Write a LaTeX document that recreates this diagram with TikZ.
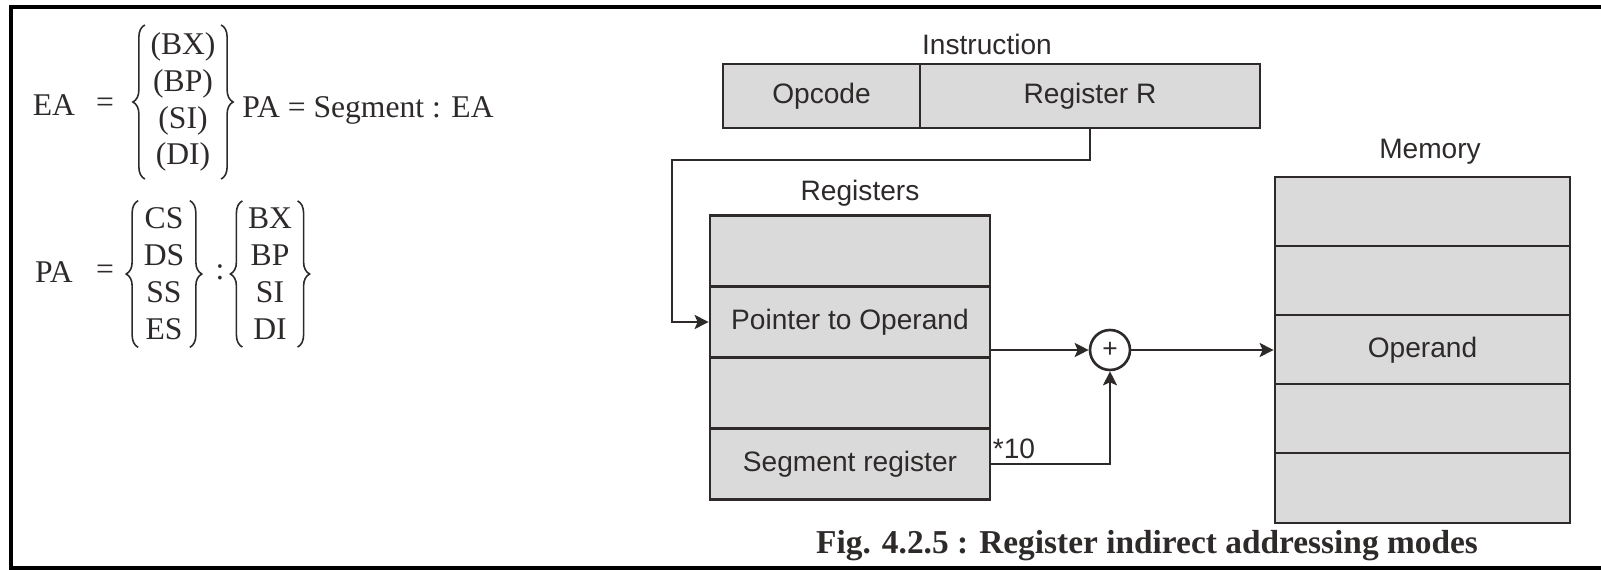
\documentclass[tikz,border=0pt]{standalone}
\usepackage{fontspec}
\setmainfont{Liberation Serif}
\setsansfont{Liberation Sans}
\usetikzlibrary{arrows.meta,decorations.pathreplacing}
\definecolor{ink}{HTML}{2E2A2A}
\definecolor{cellgray}{HTML}{DADADA}
\tikzset{
  formula/.style={font=\fontsize{18}{21}\selectfont,text=ink,inner sep=0pt},
  items/.style={formula,align=center,inner xsep=3pt,inner ysep=1pt},
  setbrace/.style={draw=ink,line width=0.9pt,decorate,decoration={brace,amplitude=2.4mm}},
  boxlabel/.style={font=\sffamily\fontsize{16}{19}\selectfont,text=ink,inner sep=0pt},
  cell/.style={draw=ink,fill=cellgray,line width=1.6pt,inner sep=0pt,font=\sffamily\fontsize{16}{19}\selectfont,text=ink},
  regcell/.style={cell,minimum width=5.6cm,minimum height=1.42cm},
  memcell/.style={cell,minimum width=5.9cm,minimum height=1.4cm},
  adder/.style={circle,draw=ink,fill=white,line width=1.5pt,minimum size=0.8cm,inner sep=0pt,font=\sffamily\fontsize{15}{17}\selectfont,text=ink},
  arr/.style={-{Stealth[length=2.8mm,width=2.8mm,inset=0.6mm]},draw=ink,line width=1.4pt},
  figcap/.style={font=\bfseries\fontsize{19}{22}\selectfont,text=ink,inner sep=0pt},
  frame/.style={draw=black,line width=1.8pt}
}

\begin{document}
\begin{tikzpicture}[x=0.02cm,y=-0.02cm]
\path[use as bounding box] (0,0) rectangle (1601,570);
\draw[frame] (1601,7)--(11,7)--(11,568)--(1601,568);

% formulas
\node[formula] (eaL) at (54,105) {EA};
\node[formula] (eaEq) at (105,105) {=};
\node[items] (eaSet) at (183,102) {(BX)\\(BP)\\(SI)\\(DI)};
\draw[setbrace] ([yshift=-3pt]eaSet.south west) -- ([yshift=3pt]eaSet.north west);
\draw[setbrace] ([yshift=3pt]eaSet.north east) -- ([yshift=-3pt]eaSet.south east);
\node[formula,anchor=west] (paDef) at (242,110) {PA = Segment : EA};

\node[formula] (paL) at (54,272) {PA};
\node[formula] (paEq) at (105,272) {=};
\node[items] (segSet) at (164,274) {CS\\DS\\SS\\ES};
\draw[setbrace] ([yshift=-3pt]segSet.south west) -- ([yshift=3pt]segSet.north west);
\draw[setbrace] ([yshift=3pt]segSet.north east) -- ([yshift=-3pt]segSet.south east);
\node[formula] (colon) at (220,272) {:};
\node[items] (offSet) at (270,274) {BX\\BP\\SI\\DI};
\draw[setbrace] ([yshift=-3pt]offSet.south west) -- ([yshift=3pt]offSet.north west);
\draw[setbrace] ([yshift=3pt]offSet.north east) -- ([yshift=-3pt]offSet.south east);

% instruction
\node[boxlabel] (instrLbl) at (987,44) {Instruction};
\node[cell,minimum width=3.94cm,minimum height=1.28cm] (opcode) at (821.5,96) {Opcode};
\node[cell,minimum width=6.8cm,minimum height=1.28cm] (regR) at (1090,96) {Register R};

% registers
\node[boxlabel] (regLbl) at (860,193) {Registers};
\node[regcell] (reg1) at (850,251) {};
\node[regcell] (ptr) at (850,322) {Pointer to Operand};
\node[regcell] (reg3) at (850,393) {};
\node[regcell] (seg) at (850,464) {Segment register};

\node[adder] (plus) at (1110,350) {+};
\node[boxlabel] (mul) at (1014,449) {*10};

% memory
\node[boxlabel] (memLbl) at (1430,152) {Memory};
\node[memcell] (mem1) at (1422.5,212) {};
\node[memcell] (mem2) at (1422.5,281) {};
\node[memcell] (mem3) at (1422.5,350) {Operand};
\node[memcell] (mem4) at (1422.5,419) {};
\node[memcell] (mem5) at (1422.5,488) {};

\coordinate (bend) at (672,160);
\draw[arr] (regR.south) |- (bend) |- (ptr.west);
\draw[arr] (ptr.east |- plus) -- (plus);
\draw[arr] (seg.east) -| (plus.south);
\draw[arr] (plus) -- (mem3);

\node[figcap] (cap) at (1147,546) {Fig. 4.2.5 : Register indirect addressing modes};
\end{tikzpicture}
\end{document}
